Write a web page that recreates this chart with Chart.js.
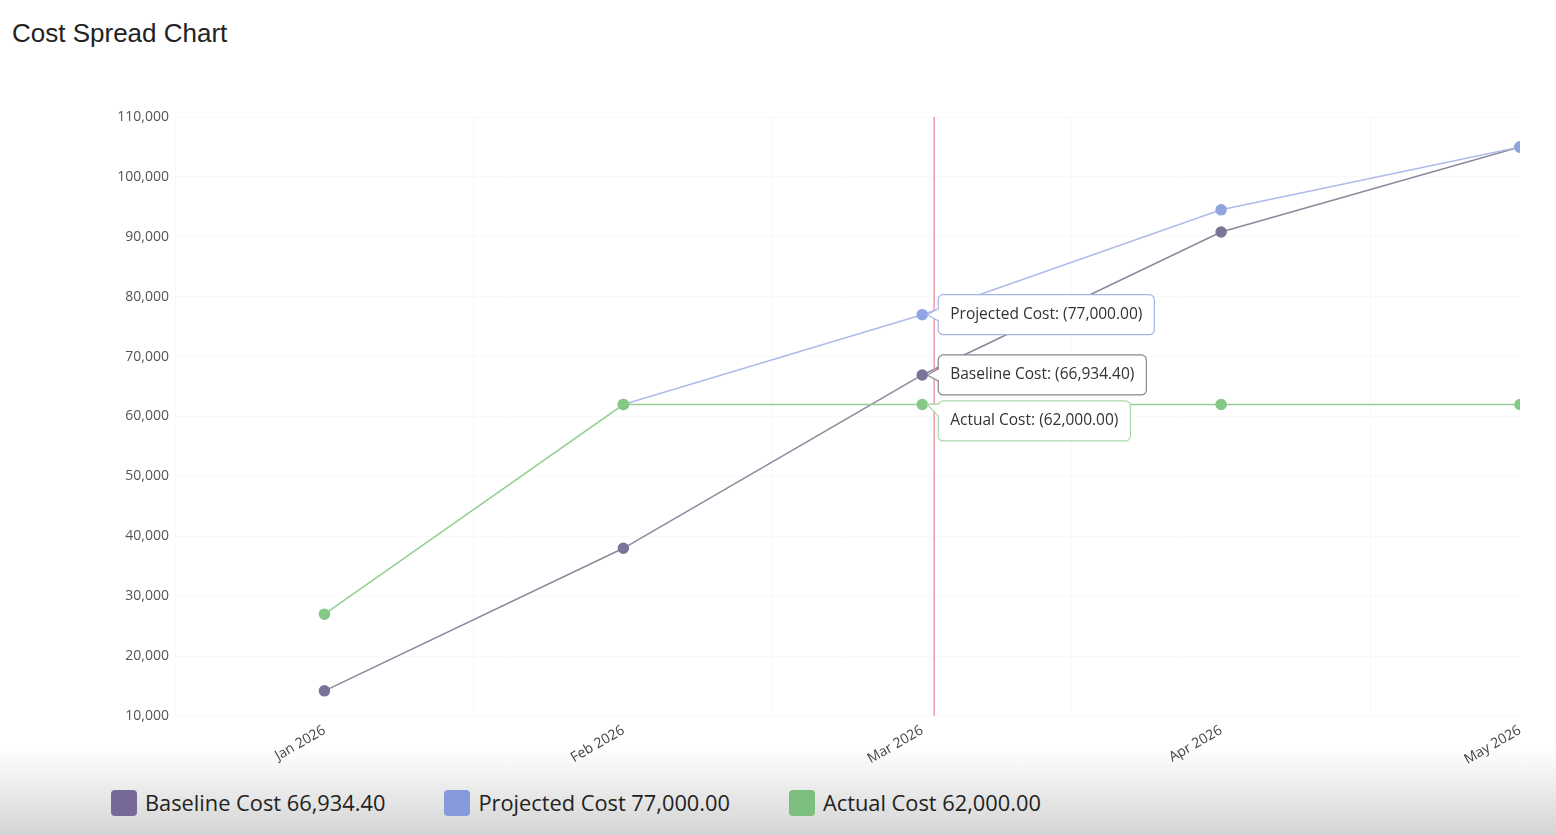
<!DOCTYPE html>
<html>
<head>
<meta charset="utf-8">
<title>Cost Spread Chart</title>
<script src="https://cdn.jsdelivr.net/npm/chart.js@4.4.1/dist/chart.umd.min.js"></script>
<style>
  body { margin: 0; width: 1556px; height: 835px; background: #fff; position: relative; overflow: hidden; font-family: "Open Sans", sans-serif; }
  #titulo { position: absolute; left: 12px; top: 18px; font: 26px "Liberation Sans", Arial, sans-serif; color: #222; }
  #faixa { position: absolute; left: 0; right: 0; top: 748px; height: 87px; background: linear-gradient(#fff, #d4d4d4); }
  #area { position: absolute; left: 0; top: 100px; width: 1556px; height: 676px; }
  #legenda { position: absolute; left: 111px; top: 788px; display: flex; align-items: center; }
  .item { display: flex; align-items: center; margin-right: 59px; font-size: 21.8px; color: #222; }
  .cor { width: 26px; height: 26px; border-radius: 4px; margin-right: 8px; }
</style>
</head>
<body>
<div id="faixa"></div>
<div id="titulo">Cost Spread Chart</div>
<div id="area"><canvas id="grafico-custos"></canvas></div>
<div id="legenda"></div>
<script>
// dados
const meses = ['Jan 2026', 'Feb 2026', 'Mar 2026', 'Apr 2026', 'May 2026'];
const custoBase = [14200, 38000, 66934.40, 90800, 105000];
const custoProjetado = [null, 62000, 77000, 94500, 105000];
const custoReal = [27000, 62000, 62000, 62000, 62000];
const eixoYMin = 10000;
const eixoYMax = 110000;
const passoY = 10000;
// posicao do cursor (em unidades do eixo x) e mes selecionado
const cursorX = 2.04;
const mesSelecionado = 2;

const series = [
    { nome: 'Actual Cost', valores: custoReal, linha: '#93cf93', ponto: '#86c886', borda: '#a9d9a9', legenda: '#7cbf7c' },
    { nome: 'Projected Cost', valores: custoProjetado, linha: '#aebbea', ponto: '#8fa4e0', borda: '#a6b5e8', legenda: '#8699db' },
    { nome: 'Baseline Cost', valores: custoBase, linha: '#8d879a', ponto: '#7b7496', borda: '#8a8494', legenda: '#76699a' }
];

function formatar(v) {
    return v.toLocaleString('en-US', { minimumFractionDigits: 2, maximumFractionDigits: 2 });
}

// legenda em html
const legenda = document.getElementById('legenda');
['Baseline Cost', 'Projected Cost', 'Actual Cost'].forEach(nome => {
    const s = series.find(x => x.nome === nome);
    const item = document.createElement('div');
    item.className = 'item';
    item.innerHTML = '<span class="cor" style="background:' + s.legenda + '"></span>' +
        nome + ' ' + formatar(s.valores[mesSelecionado]);
    legenda.appendChild(item);
});

// linha vertical do cursor + caixas de tooltip
const pluginCursor = {
    id: 'cursor',
    afterDatasetsDraw(chart) {
        const ctx = chart.ctx;
        const area = chart.chartArea;
        const px = chart.scales.x.getPixelForValue(cursorX);
        ctx.save();
        ctx.strokeStyle = '#f29aaa';
        ctx.lineWidth = 1.5;
        ctx.beginPath();
        ctx.moveTo(px, area.top);
        ctx.lineTo(px, area.bottom);
        ctx.stroke();

        ctx.font = '15.5px "Open Sans"';
        const caixas = [];
        chart.data.datasets.forEach((ds, i) => {
            const el = chart.getDatasetMeta(i).data[mesSelecionado];
            const v = series[i].valores[mesSelecionado];
            if (!el || v == null) return;
            const texto = ds.label + ': (' + formatar(v) + ')';
            caixas.push({ x: el.x, y: el.y, texto: texto, borda: series[i].borda, w: ctx.measureText(texto).width + 24 });
        });
        caixas.sort((a, b) => a.y - b.y);
        let fundoAnterior = -Infinity;
        caixas.forEach(c => {
            const h = 40;
            let topo = c.y - h / 2;
            if (topo < fundoAnterior + 6) topo = fundoAnterior + 6;
            fundoAnterior = topo + h;
            const esq = c.x + 16;
            const cy = Math.min(Math.max(c.y, topo + 9), topo + h - 9);
            ctx.fillStyle = '#fff';
            ctx.strokeStyle = c.borda;
            ctx.lineWidth = 1.2;
            ctx.beginPath();
            ctx.roundRect(esq, topo, c.w, h, 5);
            ctx.fill();
            ctx.stroke();
            ctx.beginPath();
            ctx.moveTo(esq, cy - 6);
            ctx.lineTo(c.x + 5, c.y);
            ctx.lineTo(esq, cy + 6);
            ctx.fill();
            ctx.stroke();
            ctx.fillRect(esq - 1, cy - 5, 3, 10);
            ctx.fillStyle = '#333';
            ctx.textBaseline = 'middle';
            ctx.fillText(c.texto, esq + 12, topo + h / 2);
        });
        ctx.restore();
    }
};

const ctx = document.getElementById('grafico-custos').getContext('2d');
new Chart(ctx, {
    type: 'line',
    data: {
        datasets: series.map(s => ({
            label: s.nome,
            data: s.valores.map((v, i) => ({ x: i, y: v })),
            borderColor: s.linha,
            backgroundColor: s.ponto,
            pointBackgroundColor: s.ponto,
            pointBorderColor: s.ponto,
            borderWidth: 1.5,
            pointRadius: 5,
            tension: 0,
            spanGaps: false
        }))
    },
    options: {
        responsive: true,
        maintainAspectRatio: false,
        animation: false,
        events: [],
        layout: { padding: { top: 17, right: 36, left: 0, bottom: 0 } },
        plugins: {
            legend: { display: false },
            tooltip: { enabled: false }
        },
        scales: {
            x: {
                type: 'linear',
                min: -0.5,
                max: meses.length - 1,
                afterBuildTicks: function(scale) {
                    scale.ticks = meses.map((m, i) => ({ value: i }));
                },
                afterFit: function(scale) {
                    scale.height = 60;
                },
                grid: { offset: true, color: 'rgba(0,0,0,0.025)', drawTicks: false },
                border: { display: false },
                ticks: {
                    autoSkip: false,
                    minRotation: 30,
                    maxRotation: 30,
                    padding: 6,
                    color: '#444',
                    font: { family: 'Open Sans', size: 14 },
                    callback: function(value) {
                        return meses[value];
                    }
                }
            },
            y: {
                min: eixoYMin,
                max: eixoYMax,
                afterFit: function(scale) {
                    scale.width = 175;
                },
                grid: { color: 'rgba(0,0,0,0.025)', drawTicks: false },
                border: { display: false },
                ticks: {
                    stepSize: passoY,
                    padding: 6,
                    color: '#555',
                    font: { family: 'Open Sans', size: 14 },
                    callback: function(value) {
                        return value.toLocaleString('en-US');
                    }
                }
            }
        }
    },
    plugins: [pluginCursor]
});
</script>
</body>
</html>
